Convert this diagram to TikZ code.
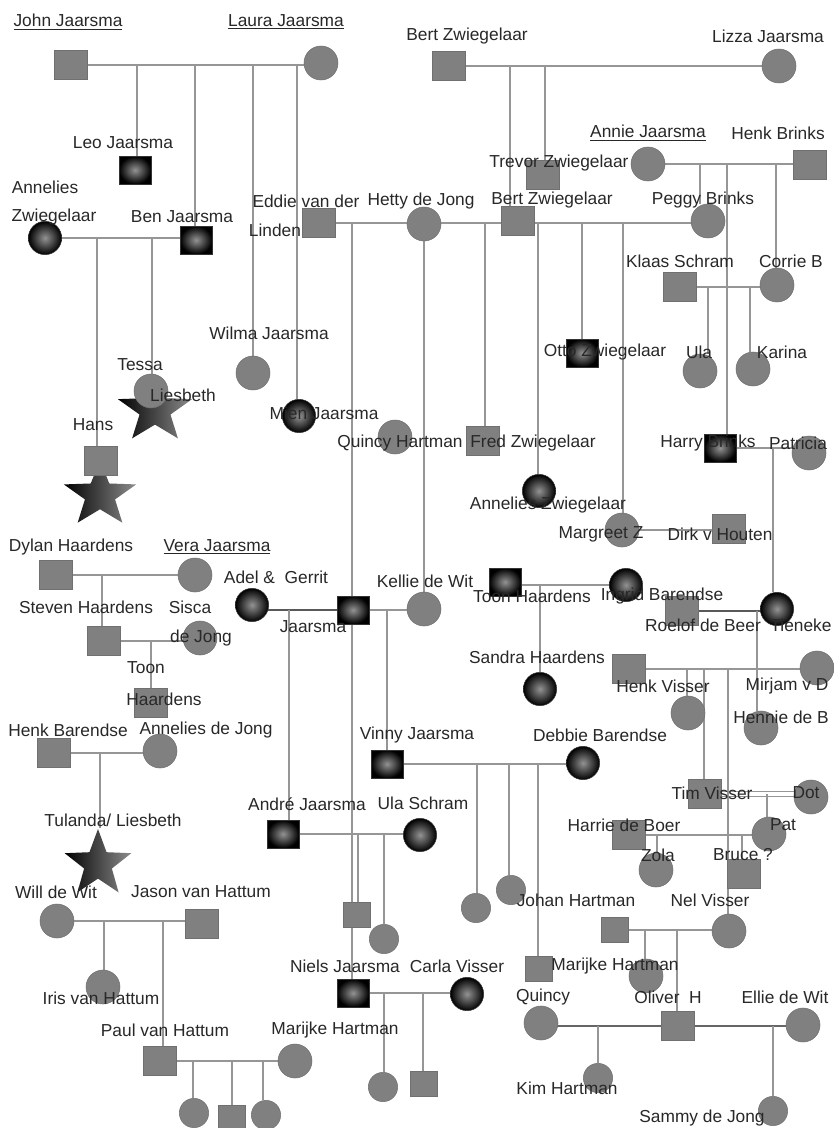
\documentclass[tikz,border=0pt]{standalone}
\usepackage{fontspec}
\setmainfont{Liberation Sans}
\usetikzlibrary{shapes.geometric}
\definecolor{fillgray}{RGB}{128,128,128}
\definecolor{edgegray}{RGB}{112,112,112}
\definecolor{linegray}{RGB}{150,150,150}
\definecolor{textgray}{RGB}{40,40,40}
\tikzstyle{male} = [rectangle, minimum width=24.5pt, minimum height=21.5pt, inner sep=0pt, draw=edgegray, fill=fillgray]
\tikzstyle{female} = [circle, minimum size=25.5pt, inner sep=0pt, draw=edgegray, fill=fillgray]
\tikzstyle{maled} = [rectangle, minimum width=24pt, minimum height=21pt, inner sep=0pt, draw=black!80, inner color=gray!85, outer color=black]
\tikzstyle{femaled} = [circle, minimum size=25pt, inner sep=0pt, draw=black!80, inner color=gray!85, outer color=black]
\tikzstyle{smallm} = [male, minimum width=20pt, minimum height=18.5pt]
\tikzstyle{smallf} = [female, minimum size=22pt]
\tikzstyle{starnode} = [star, star points=5, star point ratio=2.4, inner sep=0pt, left color=black, right color=gray!90, transform shape]
\tikzstyle{famline} = [draw=linegray, line width=1.1pt]
\tikzstyle{darkline} = [draw=black!65, line width=1.6pt]
\tikzstyle{lbl} = [font=\fontsize{13}{15}\selectfont, text=textgray, inner sep=0pt]
\pgfdeclarelayer{background}
\pgfsetlayers{background,main}

\begin{document}
\begin{tikzpicture}[x=0.75pt, y=-0.75pt]
\useasboundingbox (0,0) rectangle (834,1128);

% stars
\begin{scope}[shift={(100,495)}, yscale=0.9]
\node[starnode, minimum size=57pt] (hansstar) {};
\end{scope}
\begin{scope}[shift={(155,410)}, yscale=0.9]
\node[starnode, minimum size=58.5pt] (liesstar) {};
\end{scope}
\begin{scope}[shift={(98,864)}]
\node[starnode, minimum size=52.5pt] (tulstar) {};
\end{scope}

% people
\node[male] (john) at (71,65) {};
\node[female] (laura) at (321,63) {};
\node[maled] (leo) at (135,170) {};
\node[maled] (ben) at (196,240) {};
\node[femaled] (anneliesz) at (45,238) {};
\node[female] (wilma) at (253,373) {};
\node[femaled] (mien) at (299,416) {};
\node[male] (hans) at (101,461) {};
\node[female] (tessa) at (151,391) {};
\node[male] (eddie) at (319,223) {};
\node[female] (hetty) at (424,224) {};
\node[male] (bertz2) at (518,221) {};
\node[female] (peggy) at (708,221) {};
\node[male] (bertz1) at (449,66) {};
\node[female] (lizza) at (779,66) {};
\node[male] (trevor) at (543,175) {};
\node[female] (annie) at (648,164) {};
\node[male] (henkb) at (810,165) {};
\node[male] (klaas) at (680,287) {};
\node[female] (corrie) at (777,285) {};
\node[female] (ula1) at (700,371) {};
\node[female] (karina) at (753,369) {};
\node[maled] (otto) at (582,353) {};
\node[maled] (harry) at (720,448) {};
\node[female] (patricia) at (809,453) {};
\node[male] (fred) at (483,441) {};
\node[femaled] (anneliesz2) at (539,491) {};
\node[female] (quincyh) at (395,437) {};
\node[female] (margreet) at (622,530) {};
\node[male] (dirk) at (729,529) {};
\node[male] (dylan) at (56,575) {};
\node[female] (vera) at (195,575) {};
\node[male] (steven) at (104,641) {};
\node[female] (sisca) at (200,638) {};
\node[male] (toonl) at (151,703) {};
\node[male] (henkbar) at (54,753) {};
\node[female] (anneliesj) at (160,751) {};
\node[female] (will) at (57,921) {};
\node[male] (jason) at (202,924) {};
\node[female] (iris) at (103,987) {};
\node[male] (paul) at (160,1061) {};
\node[female] (marijke1) at (295,1061) {};
\node[smallf] (kid1) at (194,1113) {};
\node[smallm] (kid2) at (232,1118) {};
\node[smallf] (kid3) at (266,1115) {};
\node[femaled] (adel) at (252,605) {};
\node[maled] (gerrit) at (353,610) {};
\node[female] (kellie) at (424,609) {};
\node[maled] (toonh) at (505,582) {};
\node[femaled] (ingrid) at (626,585) {};
\node[femaled] (sandra) at (540,689) {};
\node[male] (roelof) at (682,611) {};
\node[femaled] (tieneke) at (777,609) {};
\node[male] (henkv) at (629,669) {};
\node[female] (mirjam) at (817,668) {};
\node[female] (vc1) at (688,713) {};
\node[female] (hennie) at (761,728) {};
\node[male] (tim) at (705,794) {};
\node[female] (dot) at (811,797) {};
\node[female] (pat) at (769,834) {};
\node[male] (harrie) at (629,835) {};
\node[female] (zola) at (656,870) {};
\node[male] (bruce) at (744,874) {};
\node[maled] (vinny) at (387,764) {};
\node[femaled] (debbie) at (583,763) {};
\node[smallf] (vk1) at (476,908) {};
\node[smallf] (vk2) at (511,890) {};
\node[smallm] (vk3) at (539,969) {};
\node[maled] (andre) at (283,834) {};
\node[femaled] (ula2) at (420,835) {};
\node[smallm] (ak1) at (357,915) {};
\node[smallf] (ak2) at (384,939) {};
\node[maled] (niels) at (353,993) {};
\node[femaled] (carla) at (467,994) {};
\node[smallf] (nk1) at (383,1087) {};
\node[smallm] (nk2) at (424,1084) {};
\node[smallm] (johan) at (615,930) {};
\node[female] (nel) at (729,931) {};
\node[female] (marijke2) at (646,976) {};
\node[female] (quincy) at (541,1023) {};
\node[male] (oliver) at (678,1026) {};
\node[female] (ellie) at (803,1025) {};
\node[smallf] (kim) at (598,1078) {};
\node[smallf] (sammy) at (773,1111) {};

% names
\node[lbl] (ljohn) at (68,22) {\underline{John Jaarsma}};
\node[lbl] (llaura) at (286,22) {\underline{Laura Jaarsma}};
\node[lbl] (lbertz1) at (467,36) {Bert Zwiegelaar};
\node[lbl] (llizza) at (768,36) {Lizza Jaarsma};
\node[lbl] (lleo) at (123,143) {Leo Jaarsma};
\node[lbl] (lanneliesz) at (45,187) {Annelies};
\node[lbl] (lanneliesz2) at (54,217) {Zwiegelaar};
\node[lbl] (lben) at (182,217) {Ben Jaarsma};
\node[lbl] (leddie) at (306,201) {Eddie van der};
\node[lbl] (leddie2) at (275,230) {Linden};
\node[lbl] (lhetty) at (421,201) {Hetty de Jong};
\node[lbl] (lbertz2) at (552,200) {Bert Zwiegelaar};
\node[lbl] (lannie) at (648,133) {\underline{Annie Jaarsma}};
\node[lbl] (lhenkb) at (778,133) {Henk Brinks};
\node[lbl] (ltrevor) at (559,163) {Trevor Zwiegelaar};
\node[lbl] (lpeggy) at (703,200) {Peggy Brinks};
\node[lbl] (lklaas) at (680,261) {Klaas Schram};
\node[lbl] (lcorrie) at (791,261) {Corrie B};
\node[lbl] (lwilma) at (269,333) {Wilma Jaarsma};
\node[lbl] (lotto) at (605,352) {Otto Zwiegelaar};
\node[lbl] (lula1) at (699,352) {Ula};
\node[lbl] (lkarina) at (782,352) {Karina};
\node[lbl] (ltessa) at (140,365) {Tessa};
\node[lbl] (lliesbeth) at (183,395) {Liesbeth};
\node[lbl] (lmien) at (324,413) {Mien Jaarsma};
\node[lbl] (lhans) at (93,425) {Hans};
\node[lbl] (lquincyh) at (400,443) {Quincy Hartman};
\node[lbl] (lfred) at (533,443) {Fred Zwiegelaar};
\node[lbl] (lharry) at (708,443) {Harry Brinks};
\node[lbl] (lpatricia) at (798,443) {Patricia};
\node[lbl] (lanneliesz3) at (548,505) {Annelies Zwiegelaar};
\node[lbl] (lmargreet) at (601,534) {Margreet Z};
\node[lbl] (ldirk) at (720,534) {Dirk v Houten};
\node[lbl] (ldylan) at (71,547) {Dylan Haardens};
\node[lbl] (lvera) at (217,547) {\underline{Vera Jaarsma}};
\node[lbl] (ladel) at (276,577) {Adel \& \ Gerrit};
\node[lbl] (lkellie) at (425,581) {Kellie de Wit};
\node[lbl] (lsteven) at (86,607) {Steven Haardens};
\node[lbl] (lsisca) at (190,607) {Sisca};
\node[lbl] (lgerrit) at (313,627) {Jaarsma};
\node[lbl] (lsisca2) at (201,638) {de Jong};
\node[lbl] (ltoonh) at (532,596) {Toon Haardens};
\node[lbl] (lingrid) at (662,596) {Ingrid Barendse};
\node[lbl] (lroelof) at (703,625) {Roelof de Beer};
\node[lbl] (ltieneke) at (801,625) {Tieneke};
\node[lbl] (lsandra) at (537,657) {Sandra Haardens};
\node[lbl] (ltoonl) at (146,668) {Toon};
\node[lbl] (ltoonl2) at (164,699) {Haardens};
\node[lbl] (lhenkv) at (663,686) {Henk Visser};
\node[lbl] (lmirjam) at (787,686) {Mirjam v D};
\node[lbl] (lhennie) at (781,717) {Hennie de B};
\node[lbl] (lhenkbar) at (68,730) {Henk Barendse};
\node[lbl] (lanneliesj) at (206,730) {Annelies de Jong};
\node[lbl] (lvinny) at (417,735) {Vinny Jaarsma};
\node[lbl] (ldebbie) at (600,735) {Debbie Barendse};
\node[lbl] (ltim) at (712,793) {Tim Visser};
\node[lbl] (ldot) at (806,793) {Dot};
\node[lbl] (landre) at (307,804) {André Jaarsma};
\node[lbl] (lula2) at (423,803) {Ula Schram};
\node[lbl] (ltulanda) at (113,820) {Tulanda/ Liesbeth};
\node[lbl] (lharrie) at (624,825) {Harrie de Boer};
\node[lbl] (lpat) at (783,825) {Pat};
\node[lbl] (lzola) at (658,855) {Zola};
\node[lbl] (lbruce) at (743,855) {Bruce ?};
\node[lbl] (lwill) at (56,892) {Will de Wit};
\node[lbl] (ljason) at (201,892) {Jason van Hattum};
\node[lbl] (ljohan) at (576,900) {Johan Hartman};
\node[lbl] (lnel) at (710,900) {Nel Visser};
\node[lbl] (lniels) at (345,966) {Niels Jaarsma};
\node[lbl] (lcarla) at (457,966) {Carla Visser};
\node[lbl] (lmarijke2) at (615,966) {Marijke Hartman};
\node[lbl] (liris) at (101,998) {Iris van Hattum};
\node[lbl] (lquincy) at (543,997) {Quincy};
\node[lbl] (loliver) at (668,997) {Oliver \ H};
\node[lbl] (lellie) at (785,997) {Ellie de Wit};
\node[lbl] (lpaul) at (165,1030) {Paul van Hattum};
\node[lbl] (lmarijke1) at (335,1030) {Marijke Hartman};
\node[lbl] (lkim) at (567,1088) {Kim Hartman};
\node[lbl] (lsammy) at (702,1118) {Sammy de Jong};

\begin{pgfonlayer}{background}
\fill[white] (0,0) rectangle (834,1128);
% couples
\foreach \a/\b in {john/laura, anneliesz/ben, eddie/peggy, bertz1/lizza, annie/henkb,
  klaas/corrie, harry/patricia, margreet/dirk, dylan/vera, steven/sisca,
  henkbar/anneliesj, will/jason, paul/marijke1, gerrit/kellie, ingrid/toonh,
  henkv/mirjam, harrie/pat, vinny/debbie, andre/ula2, niels/carla, johan/nel}
  \draw[famline] (\a) -- (\a -| \b);
\draw[darkline] (gerrit) -- (gerrit -| adel);
\draw[darkline] (roelof) -- (roelof -| tieneke);
\draw[famline, line width=0.8pt, double=white, double distance=2.5pt] (tim) -- (tim -| dot);
\draw[draw=gray!80!black, line width=2pt] (quincy |- oliver) -- (ellie |- oliver);
% children
\foreach \x/\p/\c in {137/john/leo, 195/john/ben, 253/john/wilma, 297/john/mien,
  97/anneliesz/hans, 152/anneliesz/tessa,
  352/eddie/niels, 424/eddie/kellie, 485/eddie/fred, 538/eddie/anneliesz2, 582/eddie/otto, 623/eddie/margreet,
  510/bertz1/bertz2, 545/bertz1/trevor,
  700/annie/peggy, 727/annie/harry, 776/annie/corrie,
  708/klaas/ula1, 750/klaas/karina, 773/harry/tieneke,
  102/dylan/steven, 151/steven/toonl, 100/henkbar/tulstar,
  104/will/iris, 163/will/paul, 193/paul/kid1, 232/paul/kid2, 263/paul/kid3,
  289/gerrit/andre, 387/gerrit/vinny, 540/ingrid/sandra, 757/roelof/hennie,
  687/henkv/vc1, 704/henkv/tim, 728/henkv/nel, 767/tim/pat,
  657/harrie/zola, 742/harrie/bruce,
  477/vinny/vk1, 509/vinny/vk2, 538/vinny/vk3,
  358/andre/ak1, 384/andre/ak2, 384/niels/nk1, 423/niels/nk2,
  645/johan/marijke2, 677/johan/oliver, 598/oliver/kim, 773/oliver/sammy}
  \draw[famline] (\x,0 |- \p) -- (\x,0 |- \c.north);
\end{pgfonlayer}

\end{tikzpicture}
\end{document}
